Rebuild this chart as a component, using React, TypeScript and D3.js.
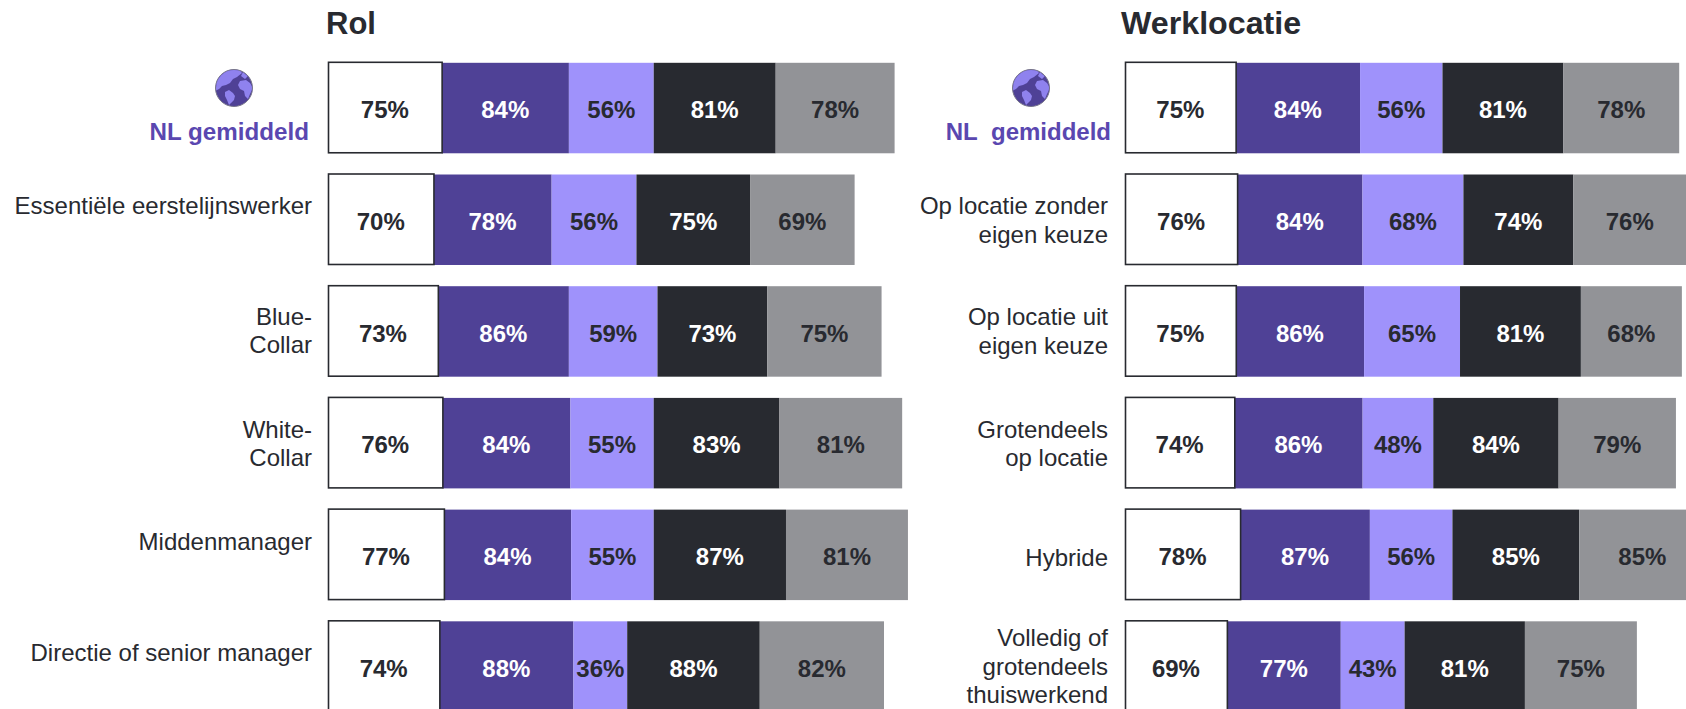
import React from "react";
import * as d3 from "d3";

const rolTitle = "Rol";
const rolLabels: string[][] = [
  ["NL gemiddeld"],
  ["Essentiële eerstelijnswerker"],
  ["Blue-", "Collar"],
  ["White-", "Collar"],
  ["Middenmanager"],
  ["Directie of senior manager"],
];
// Values; the printed labels are these values rounded.
const rolA = [75, 69.6, 72.5, 75.5, 76.5, 73.5];
const rolB = [84, 78, 86.49, 84.49, 84, 88.49];
const rolC = [56, 56, 58.5, 55, 54.5, 35.5];
const rolD = [80.5, 75, 72.5, 83, 87.3, 87.5];
const rolE = [78.49, 69, 75.4, 81, 80.5, 82];

const locTitle = "Werklocatie";
const locLabels: string[][] = [
  ["NL\u00a0\u00a0gemiddeld"],
  ["Op locatie zonder", "eigen keuze"],
  ["Op locatie uit", "eigen keuze"],
  ["Grotendeels", "op locatie"],
  ["Hybride"],
  ["Volledig of", "grotendeels", "thuiswerkend"],
];
const locA = [74.5, 75.5, 74.6, 73.6, 77.5, 68.6];
const locB = [83.8, 84.4, 86.4, 86.4, 87.4, 76.7];
const locC = [55.5, 68, 64.6, 47.6, 55.6, 43];
const locD = [81.4, 74, 81.4, 84.4, 85.4, 81];
const locE = [78, 76, 68, 79, 85, 75.4];

const keys = ["a", "b", "c", "d", "e"];
const fills = ["#ffffff", "#4f4196", "#9f92fb", "#282a30", "#929397"];
const textFills = ["#282a30", "#ffffff", "#282a30", "#ffffff", "#282a30"];
const DARK = "#282a30";
const ACCENT = "#5a47b0";
const FONT = "'Liberation Sans', Arial, sans-serif";

const rowBand = d3.scaleBand<number>().domain(d3.range(6)).range([62.8, 711.8]).paddingInner(0.19).paddingOuter(0).align(0);

function Globe({ cx, cy }: { cx: number; cy: number }) {
  const id = `g${Math.round(cx)}`;
  return (
    <g transform={`translate(${cx},${cy})`}>
      <clipPath id={id}><circle r={18} /></clipPath>
      <circle r={18.5} fill="#4f4196" stroke="#77758a" strokeWidth={1} />
      <g clipPath={`url(#${id})`} fill="#8f82ee">
        <path d="M-19,-4 L-14,-14 L-6,-19 L5,-19 L8,-15 L3,-11 L-1,-9 L-4,-5 L-8,-3 L-12,-2 L-15,1 L-19,3 Z" />
        <path d="M-9,4 L-5,2 L-1,5 L1,8 L0,12 L-3,15 L-5,17 L-7,12 L-9,8 Z" />
        <path d="M9,-16 L14,-12 L11,-9 L7,-12 Z" />
        <path d="M6,-7 L12,-8 L16,-5 L19,0 L16,6 L14,11 L11,8 L10,3 L6,1 L4,-3 Z" />
      </g>
    </g>
  );
}

type PanelProps = {
  title: string; titleX: number; titleSize: number; labels: string[][]; columns: number[][];
  x0: number; pxPerUnit: number; labelRight: number; headRight: number; headSize: number;
  globeX: number; firstBaseline: number[];
};

function Panel({ title, titleX, titleSize, labels, columns, x0, pxPerUnit, labelRight, headRight, headSize, globeX, firstBaseline }: PanelProps) {
  const rows = labels.map((_, i) => {
    const r: Record<string, number> = {};
    keys.forEach((k, j) => (r[k] = columns[j][i]));
    return r;
  });
  const series = d3.stack<Record<string, number>>().keys(keys)(rows);
  const maxSum = 400;
  const x = d3.scaleLinear().domain([0, maxSum]).range([x0, x0 + maxSum * pxPerUnit]);
  const h = rowBand.bandwidth();
  return (
    <g>
      <text x={titleX} y={34} fontSize={titleSize} fontWeight={700} fill={DARK}>{title}</text>
      {series.map((s, j) =>
        j === 0 ? null : (
          <g key={j}>
            {s.map((d, i) => (
              <rect key={i} x={x(d[0])} y={rowBand(i)!} width={x(d[1]) - x(d[0])} height={h} fill={fills[j]} />
            ))}
          </g>
        )
      )}
      {series[0].map((d, i) => (
        <rect key={i} x={x(d[0]) + 0.5} y={rowBand(i)! - 0.5} width={x(d[1]) - x(d[0])} height={h} fill={fills[0]} stroke={DARK} strokeWidth={1.6} />
      ))}
      {series.map((s, j) =>
        s.map((d, i) => (
          <text key={`${j}-${i}`} x={(x(d[0]) + x(d[1])) / 2} y={rowBand(i)! + 55.5} textAnchor="middle" fontSize={24} fontWeight={700} fill={textFills[j]}>
            {`${Math.round(d[1] - d[0])}%`}
          </text>
        ))
      )}
      <Globe cx={globeX} cy={88} />
      {labels.map((lines, i) =>
        lines.map((line, l) => (
          <text key={`${i}-${l}`} x={i === 0 ? headRight : labelRight} y={rowBand(i)! + firstBaseline[i] + l * 28.4} textAnchor="end"
            fontSize={i === 0 ? headSize : 24} fontWeight={i === 0 ? 700 : 400} fill={i === 0 ? ACCENT : DARK}>
            {line}
          </text>
        ))
      )}
    </g>
  );
}

const rolBaselines = [77, 39.2, 38.8, 40, 40, 39.2];
const locBaselines = [77, 39.8, 39, 40, 56, 25];

export default function App() {
  return (
    <svg width={1686} height={709} viewBox="0 0 1686 709" fontFamily={FONT} style={{ position: "absolute", left: 0, top: 0, display: "block", background: "#fff" }}>
      <Panel title={rolTitle} titleX={326} titleSize={31} labels={rolLabels} columns={[rolA, rolB, rolC, rolD, rolE]}
        x0={328} pxPerUnit={1.515} labelRight={312} headRight={309} headSize={24.2} globeX={234} firstBaseline={rolBaselines} />
      <Panel title={locTitle} titleX={1121} titleSize={32.2} labels={locLabels} columns={[locA, locB, locC, locD, locE]}
        x0={1125} pxPerUnit={1.485} labelRight={1108} headRight={1111} headSize={24} globeX={1031} firstBaseline={locBaselines} />
    </svg>
  );
}
